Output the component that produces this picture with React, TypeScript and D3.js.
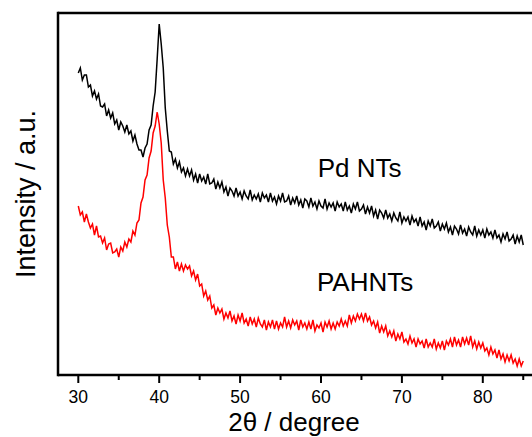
import React, { useEffect, useRef } from 'react';
import * as d3 from 'd3';

// 2θ from 30 to 85 in steps of 0.25 degree
const twoTheta: number[] = d3.range(0, 221).map((i) => 30 + i * 0.25);

// Pd NTs, intensity (a.u.), 4 points per degree
const pdNTs: number[] = [
  302, 307, 295, 300, // 30
  300, 288, 290, 279, // 31
  284, 276, 281, 269, // 32
  268, 271, 259, 265, // 33
  257, 262, 251, 255, // 34
  245, 253, 249, 243, // 35
  250, 241, 244, 234, // 36
  240, 231, 225, 225, // 37
  218, 227, 231, 245, // 38
  250, 269, 283, 316, // 39
  351, 331, 307, 267, // 40
  244, 224, 223, 211, // 41
  216, 207, 213, 203, // 42
  207, 199, 206, 199, // 43
  205, 195, 201, 192, // 44
  201, 194, 198, 191, // 45
  201, 191, 192, 196, // 46
  186, 193, 187, 193, // 47
  183, 188, 179, 187, // 48
  184, 179, 187, 179, // 49
  183, 176, 184, 179, // 50
  176, 185, 175, 180, // 51
  176, 181, 173, 182, // 52
  177, 180, 173, 182, // 53
  174, 178, 171, 179, // 54
  174, 182, 173, 174, // 55
  179, 170, 177, 172, // 56
  179, 170, 175, 167, // 57
  176, 174, 168, 177, // 58
  169, 173, 166, 174, // 59
  169, 167, 176, 166, // 60
  172, 168, 172, 164, // 61
  173, 168, 171, 164, // 62
  173, 165, 169, 162, // 63
  171, 166, 173, 164, // 64
  166, 170, 161, 168, // 65
  162, 169, 159, 165, // 66
  156, 165, 162, 157, // 67
  165, 157, 161, 154, // 68
  162, 157, 154, 163, // 69
  152, 158, 154, 158, // 70
  150, 159, 153, 156, // 71
  149, 158, 149, 153, // 72
  145, 154, 149, 156, // 73
  147, 149, 153, 144, // 74
  151, 146, 152, 143, // 75
  148, 140, 149, 146, // 76
  141, 150, 142, 146, // 77
  139, 148, 143, 140, // 78
  149, 139, 145, 140, // 79
  145, 137, 146, 140, // 80
  143, 137, 145, 137, // 81
  140, 133, 141, 136, // 82
  143, 134, 136, 140, // 83
  131, 139, 133, 140, // 84
  130, // 85
];

// PAHNTs, intensity (a.u.)
const pahNTs: number[] = [
  169, 160, 163, 153, // 30
  161, 153, 147, 151, // 31
  140, 149, 138, 139, // 32
  132, 137, 125, 131, // 33
  132, 122, 123, 126, // 34
  118, 128, 124, 133, // 35
  128, 136, 133, 144, // 36
  140, 152, 155, 172, // 37
  178, 195, 200, 217, // 38
  224, 242, 249, 263, // 39
  251, 232, 195, 177, // 40
  150, 138, 118, 118, // 41
  106, 113, 104, 111, // 42
  104, 110, 106, 109, // 43
  99, 104, 95, 101, // 44
  89, 91, 79, 84, // 45
  75, 79, 67, 70, // 46
  60, 67, 62, 66, // 47
  56, 62, 57, 64, // 48
  54, 59, 51, 60, // 49
  54, 62, 52, 56, // 50
  49, 58, 51, 56, // 51
  48, 57, 51, 48, // 52
  55, 45, 53, 48, // 53
  55, 46, 54, 46, // 54
  52, 48, 58, 48, // 55
  54, 47, 55, 50, // 56
  54, 45, 55, 48, // 57
  52, 46, 53, 46, // 58
  55, 44, 50, 47, // 59
  52, 43, 53, 48, // 60
  54, 46, 52, 46, // 61
  53, 49, 56, 49, // 62
  54, 49, 60, 52, // 63
  59, 54, 61, 56, // 64
  61, 54, 62, 54, // 65
  58, 50, 54, 47, // 66
  53, 42, 49, 43, // 67
  49, 39, 44, 38, // 68
  44, 34, 41, 36, // 69
  43, 33, 36, 31, // 70
  39, 32, 36, 28, // 71
  36, 31, 34, 27, // 72
  36, 28, 32, 28, // 73
  36, 26, 32, 27, // 74
  34, 25, 34, 30, // 75
  36, 28, 38, 30, // 76
  35, 28, 38, 31, // 77
  37, 30, 39, 28, // 78
  34, 26, 33, 27, // 79
  32, 24, 27, 20, // 80
  28, 21, 25, 17, // 81
  25, 16, 21, 13, // 82
  20, 14, 20, 12, // 83
  16, 9, 16, 9, // 84
  14, // 85
];

const majorTicks: number[] = [30, 40, 50, 60, 70, 80];
const minorTicks: number[] = [35, 45, 55, 65, 75, 85];

const seriesNames: string[] = ['Pd NTs', 'PAHNTs'];
const seriesColors: string[] = ['#000000', '#ff0000'];

export default function App() {
  const svgRef = useRef<SVGSVGElement | null>(null);

  useEffect(() => {
    const W = 532;
    const left = 58;
    const top = 13;
    const bottom = 375;
    const font = '"Liberation Sans", Arial, sans-serif';

    const svg = d3.select(svgRef.current);
    svg.selectAll('*').remove();

    // scales
    const x = d3.scaleLinear().domain([30, 80]).range([78.3, 482.8]);
    const y = d3.scaleLinear().domain([0, 362]).range([bottom, top]);

    // curves
    const line = d3
      .line<number>()
      .x((d, i) => x(twoTheta[i]))
      .y((d) => y(d));

    [pdNTs, pahNTs].forEach((data, k) => {
      svg
        .append('path')
        .datum(data)
        .attr('d', line)
        .attr('fill', 'none')
        .attr('stroke', seriesColors[k])
        .attr('stroke-width', 1.5)
        .attr('stroke-linejoin', 'miter');
    });

    // frame: left, top, bottom (right side is cut off)
    const frame = svg.append('g').attr('stroke', '#000').attr('stroke-width', 2.5);
    frame.append('line').attr('x1', left).attr('x2', left).attr('y1', top - 1.25).attr('y2', bottom + 1.25);
    frame.append('line').attr('x1', left).attr('x2', W + 5).attr('y1', top).attr('y2', top);
    frame.append('line').attr('x1', left).attr('x2', W + 5).attr('y1', bottom).attr('y2', bottom);

    // ticks
    const tickG = svg.append('g').attr('stroke', '#000').attr('stroke-width', 2);
    majorTicks.forEach((t) => {
      tickG.append('line').attr('x1', x(t)).attr('x2', x(t)).attr('y1', bottom).attr('y2', bottom + 8);
    });
    minorTicks.forEach((t) => {
      tickG.append('line').attr('x1', x(t)).attr('x2', x(t)).attr('y1', bottom).attr('y2', bottom + 5);
    });

    svg
      .append('g')
      .selectAll('text')
      .data(majorTicks)
      .enter()
      .append('text')
      .attr('x', (d) => x(d))
      .attr('y', 403)
      .attr('text-anchor', 'middle')
      .style('font-family', font)
      .style('font-size', '17.5px')
      .text((d) => d);

    // axis titles
    svg
      .append('text')
      .attr('x', 294)
      .attr('y', 431)
      .attr('text-anchor', 'middle')
      .style('font-family', font)
      .style('font-size', '26px')
      .text('2θ / degree');

    svg
      .append('text')
      .attr('transform', 'translate(35,194) rotate(-90)')
      .attr('text-anchor', 'middle')
      .style('font-family', font)
      .style('font-size', '27px')
      .text('Intensity / a.u.');

    // curve labels
    const labelPos = [
      [59.6, 198],
      [59.5, 84],
    ];
    seriesNames.forEach((name, k) => {
      svg
        .append('text')
        .attr('x', x(labelPos[k][0]))
        .attr('y', y(labelPos[k][1]))
        .style('font-family', font)
        .style('font-size', '26px')
        .attr('fill', '#000')
        .text(name);
    });
  }, []);

  return (
    <svg
      ref={svgRef}
      width={532}
      height={437}
      style={{ position: 'absolute', left: 0, top: 0, background: '#fff' }}
    />
  );
}
